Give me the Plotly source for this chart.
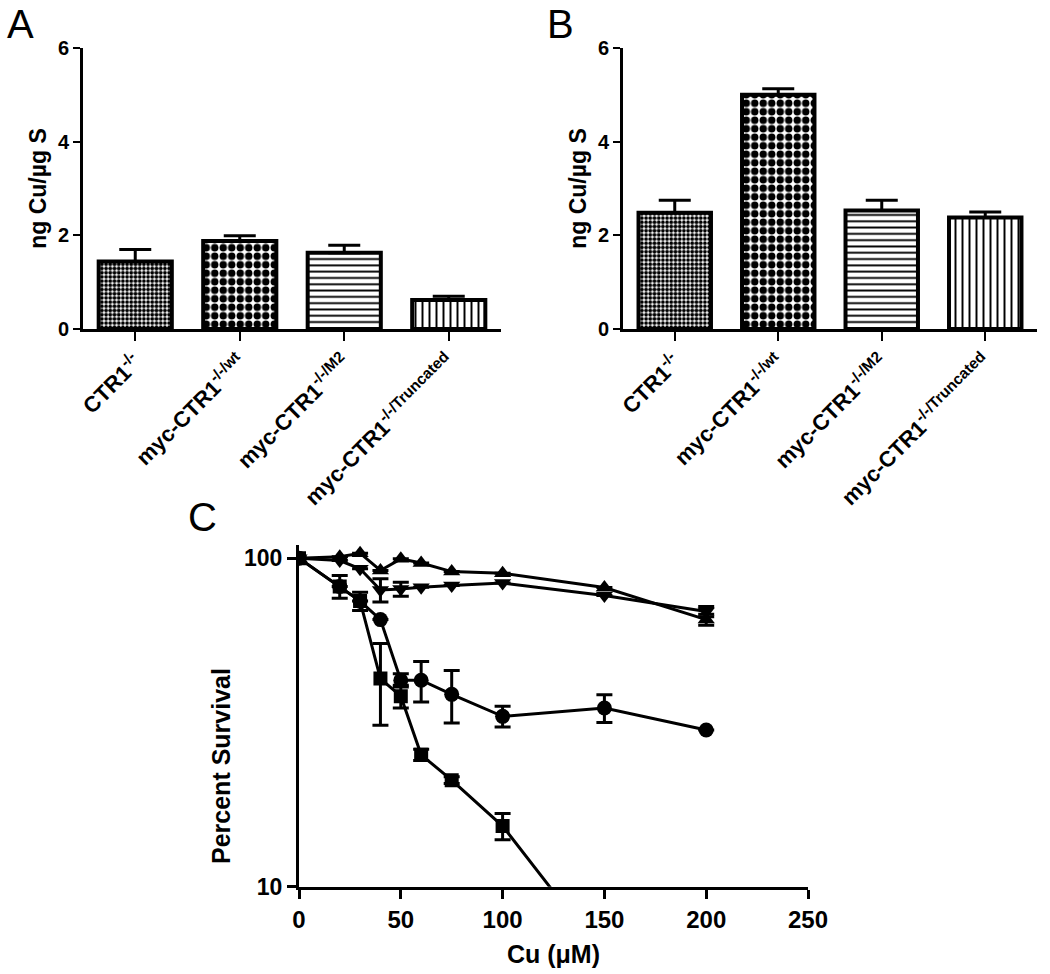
import plotly.graph_objects as go

# ---------- data ----------
categories = ["CTR1<sup>-/-</sup>", "myc-CTR1<sup>-/-/wt</sup>",
              "myc-CTR1<sup>-/-/M2</sup>", "myc-CTR1<sup>-/-/Truncated</sup>"]
a_values = [1.44, 1.88, 1.63, 0.62]
a_errors = [0.26, 0.11, 0.16, 0.08]
b_values = [2.48, 5.00, 2.53, 2.38]
b_errors = [0.27, 0.13, 0.22, 0.12]

cu_conc = [0, 20, 30, 40, 50, 60, 75, 100, 150, 200]
sq_x = [0, 20, 30, 40, 50, 60, 75, 100, 150]
sq_y = [100, 82, 74, 43, 38, 25.2, 21.1, 15.3, 6.1]
sq_err = [0, 6.5, 4.7, 12, 3, 1.0, 0.5, 1.4, 0]
ci_y = [100, 82, 74, 65, 42.5, 42.5, 38.5, 33, 35, 30]
ci_err = [0, 0, 0, 0, 2, 6, 7, 2.4, 3.4, 0]
tu_y = [100, 101, 103.5, 91.7, 99.5, 96.6, 91, 90, 81.4, 65]
tu_err = [0, 0, 0, 0, 0, 0, 0, 0, 0, 2.5]
td_y = [100, 98.3, 92.8, 80, 80.5, 81.6, 82.5, 84, 77, 68.8]
td_err = [0, 0, 0, 6.5, 4, 0, 0, 0, 0, 2.5]

# ---------- styles ----------
W, H = 1050, 974
FONT = "Liberation Sans, Arial, sans-serif"
patterns = [dict(shape=".", size=4.2, solidity=0.62, fgcolor="black", bgcolor="white", fgopacity=1),
            dict(shape=".", size=8.5, solidity=0.6, fgcolor="black", bgcolor="white", fgopacity=1),
            dict(shape="-", size=6.3, solidity=0.3, fgcolor="black", bgcolor="white", fgopacity=1),
            dict(shape="|", size=7, solidity=0.28, fgcolor="black", bgcolor="white", fgopacity=1)]

def px_x(p):
    return p / W

def px_y(p):
    return 1 - p / H

fig = go.Figure()

for vals, errs, xa, ya in [(a_values, a_errors, "x", "y"), (b_values, b_errors, "x2", "y2")]:
    for i, cat in enumerate(categories):
        fig.add_trace(go.Bar(
            x=[cat], y=[vals[i]], width=0.7, xaxis=xa, yaxis=ya,
            marker=dict(color="white", line=dict(color="black", width=4), pattern=patterns[i]),
            error_y=dict(type="data", symmetric=False, array=[errs[i]], arrayminus=[0],
                         color="black", thickness=3, width=16),
            showlegend=False))

line_style = dict(color="black", width=3)
series = [(sq_x, sq_y, sq_err, "square", 14),
          (cu_conc, ci_y, ci_err, "circle", 15),
          (cu_conc, tu_y, tu_err, "triangle-up", 15),
          (cu_conc, td_y, td_err, "triangle-down", 15)]
for xs, ys, es, sym, sz in series:
    fig.add_trace(go.Scatter(x=xs, y=ys, mode="lines+markers", xaxis="x3", yaxis="y3",
                             line=line_style, marker=dict(symbol=sym, size=sz, color="black"),
                             error_y=dict(type="data", array=es, color="black", thickness=3, width=8),
                             showlegend=False))

tickfont = dict(family=FONT, size=20, color="black", weight="bold")
catfont = dict(family=FONT, size=22, color="black", weight="bold")
titlefont = dict(family=FONT, size=23, color="black", weight="bold")

def bar_xaxis(d0, d1, anchor):
    return dict(domain=[d0, d1], anchor=anchor, range=[-0.5, 3.5], showline=True, linewidth=3,
                linecolor="black", ticks="outside", ticklen=9, tickwidth=2, tickcolor="black",
                tickangle=-45, tickfont=catfont, showgrid=False, zeroline=False, fixedrange=True)

def bar_yaxis(anchor):
    return dict(domain=[px_y(329), px_y(48)], anchor=anchor, range=[0, 6], tickvals=[0, 2, 4, 6],
                showline=True, linewidth=3, linecolor="black", ticks="outside", ticklen=7,
                tickwidth=2, tickcolor="black", tickfont=tickfont, showgrid=False, zeroline=False,
                title=dict(text="ng Cu/µg S", font=titlefont, standoff=5))

fig.update_layout(
    width=W, height=H, margin=dict(l=0, r=0, t=0, b=0, autoexpand=False),
    paper_bgcolor="white", plot_bgcolor="white", barmode="overlay",
    xaxis=bar_xaxis(px_x(83), px_x(501), "y"),
    yaxis=bar_yaxis("x"),
    xaxis2=bar_xaxis(px_x(623), px_x(1037), "y2"),
    yaxis2=bar_yaxis("x2"),
    xaxis3=dict(domain=[px_x(299), px_x(808)], anchor="y3", range=[0, 250],
                tickvals=[0, 50, 100, 150, 200, 250], showline=True, linewidth=3, linecolor="black",
                ticks="outside", ticklen=9, tickwidth=3, tickcolor="black",
                tickfont=dict(family=FONT, size=24, color="black", weight="bold"),
                showgrid=False, zeroline=False,
                title=dict(text="Cu (μM)", font=dict(family=FONT, size=25, color="black", weight="bold"), standoff=14)),
    yaxis3=dict(domain=[px_y(886.7), px_y(545)], anchor="x3", type="log", range=[1, 2.04],
                tickvals=[10, 100], ticktext=["10", "100"], showline=True, linewidth=3, linecolor="black",
                ticks="outside", ticklen=9, tickwidth=3, tickcolor="black",
                tickfont=dict(family=FONT, size=23, color="black", weight="bold"),
                showgrid=False, zeroline=False),
    annotations=[
        dict(text="A", x=px_x(5), y=px_y(0), xref="paper", yref="paper", xanchor="left", yanchor="top",
             showarrow=False, font=dict(family=FONT, size=40, color="black")),
        dict(text="B", x=px_x(545), y=px_y(0), xref="paper", yref="paper", xanchor="left", yanchor="top",
             showarrow=False, font=dict(family=FONT, size=40, color="black")),
        dict(text="C", x=px_x(186), y=px_y(493), xref="paper", yref="paper", xanchor="left", yanchor="top",
             showarrow=False, font=dict(family=FONT, size=40, color="black")),
        dict(text="Percent Survival", x=px_x(221), y=px_y(766), xref="paper", yref="paper",
             xanchor="center", yanchor="middle", textangle=-90, showarrow=False,
             font=dict(family=FONT, size=25, color="black", weight="bold")),
    ],
)

fig.write_html("out.html", post_script="document.body.style.margin='0px';",
               config={"displayModeBar": False})
